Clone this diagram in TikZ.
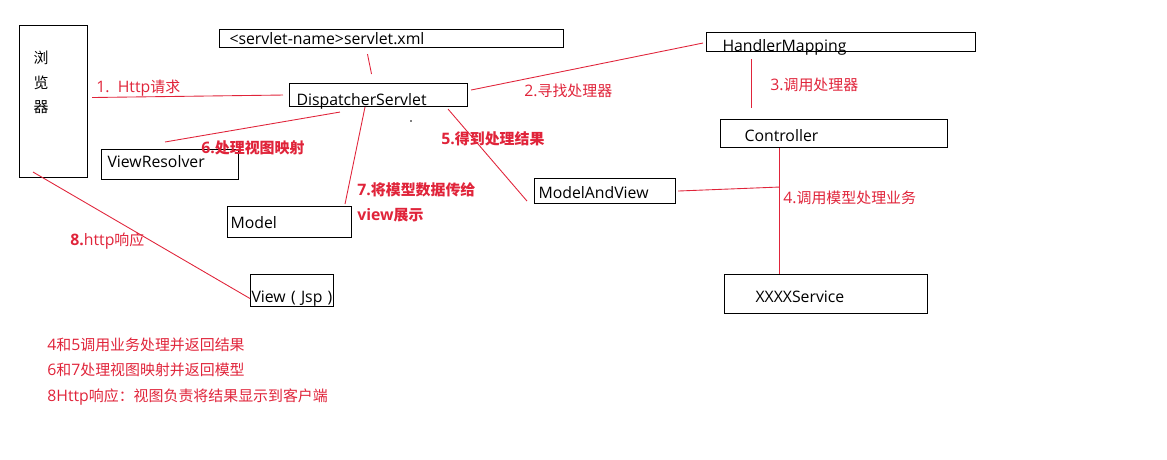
\documentclass[tikz,border=0pt]{standalone}
\usepackage{fontspec}
\setmainfont{Open Sans}
\newfontfamily\cjk{Noto Sans CJK SC}
\newcommand\zh[1]{{\cjk\fontsize{8.5}{10}\selectfont#1}}
\definecolor{flowred}{RGB}{224,36,58}

\begin{document}
\begin{tikzpicture}[x=0.02cm, y=-0.02cm,
    box/.style={draw, line width=0.6pt, anchor=north west, inner ysep=0pt,
                align=left, text height=0.24cm, text depth=0pt,
                font=\fontsize{9}{11}\selectfont},
    link/.style={flowred, line width=0.5pt},
    lab/.style={flowred, anchor=west, inner sep=0pt, font=\fontsize{9}{11}\selectfont},
    boldlab/.style={lab, font=\fontsize{9}{11}\selectfont\bfseries}]
  \useasboundingbox (0,0) rectangle (1167,460);

  % boxes, placed by their top-left corner (pixel grid)
  \node[box, inner xsep=0.28cm, inner ysep=0.5cm, text height=, text depth=,
        font=\cjk\fontsize{8.5}{14.2}\selectfont] (browser) at (19,25)
       {\parbox[c][2.04cm][t]{0.8cm}{浏\\览\\器}};
  \node[box, minimum height=0.36cm, inner xsep=0.2cm, text width=6.48cm] (servlet) at (219,29)
       {<servlet-name>servlet.xml};
  \node[box, minimum height=0.46cm, inner xsep=0.14cm, text width=3.28cm, text height=0.42cm]
       (disp) at (289,83) {DispatcherServlet};
  \node[box, minimum height=0.38cm, inner xsep=0.32cm, text width=4.74cm, text height=0.38cm]
       (hmap) at (706,32) {HandlerMapping};
  \node[box, minimum height=0.56cm, inner xsep=0.48cm, text width=3.58cm, text height=0.31cm]
       (ctrl) at (720,119) {Controller};
  \node[box, minimum height=0.6cm, inner xsep=0.12cm, text width=2.5cm, text height=0.12cm]
       (vres) at (101,149) {ViewResolver};
  \node[box, minimum height=0.62cm, inner xsep=0.06cm, text width=2.36cm] (model) at (227,206)
       {Model};
  \node[box, minimum height=0.5cm, inner xsep=0.08cm, text width=2.66cm, text height=0.31cm]
       (mav) at (534,178) {ModelAndView};
  \node[box, minimum height=0.64cm, inner xsep=0.02cm, text width=1.62cm, text height=0.48cm]
       (view) at (250,274) {\mbox{View~(~Jsp~)}};
  \node[box, minimum height=0.78cm, inner xsep=0.62cm, text width=2.82cm, text height=0.35cm]
       (svc) at (724,274) {XXXXService};

  % red connectors, ends kept a little off the boxes
  \draw[link] ([shift={(4,-4)}]browser.east) -- ([shift={(-6,0)}]disp.west);
  \draw[link] ([shift={(-24,6)}]servlet.south) -- ([shift={(-7,-9)}]disp.north);
  \draw[link] ([shift={(3,-5)}]disp.east) -- ([shift={(-3,1)}]hmap.west);
  \draw[link] ([shift={(45,7)}]hmap.south west) -- ([shift={(31,-11)}]ctrl.north west);
  \draw[link] ([shift={(59,0)}]ctrl.south west) -- ([shift={(55,0)}]svc.north west);
  \draw[link] ([shift={(2,0)}]mav.east) -- ([shift={(59,39)}]ctrl.south west);
  \draw[link] ([shift={(-20,2)}]disp.south east) -- ([shift={(-7,-3)}]mav.south west);
  \draw[link] ([shift={(51,5)}]disp.south west) -- ([shift={(64,-7)}]vres.north west);
  \draw[link] ([shift={(76,0)}]disp.south west) -- ([shift={(-7,-2)}]model.north east);
  \draw[link] ([shift={(14,-6)}]browser.south west) -- ([shift={(0,8)}]view.west);

  % stray dot below the dispatcher
  \fill (411,121) circle (0.8);

  % step labels
  \node[lab] (lab1) at (96,88) {1.\ \ Http\zh{请求}};
  \node[lab] (lab2) at (524,91) {2.\zh{寻找处理器}};
  \node[lab] (lab3) at (770,85) {3.\zh{调用处理器}};
  \node[lab] (lab4) at (783,198) {4.\zh{调用模型处理业务}};
  \node[boldlab] (lab5) at (441,139) {5.\zh{得到处理结果}};
  \node[boldlab] (lab6) at (201,148) {6.\zh{处理视图映射}};
  \node[boldlab] (lab7a) at (357,190) {7.\zh{将模型数据传给}};
  \node[boldlab] (lab7b) at (357,215) {view\zh{展示}};
  \node[lab] (lab8) at (70,241) {\textbf{8.}http\zh{响应}};

  % notes at the bottom
  \node[lab] (note1) at (47,345) {4\zh{和}5\zh{调用业务处理并返回结果}};
  \node[lab] (note2) at (47,370) {6\zh{和}7\zh{处理视图映射并返回模型}};
  \node[lab] (note3) at (47,397) {8Http\zh{响应：视图负责将结果显示到客户端}};
\end{tikzpicture}
\end{document}
